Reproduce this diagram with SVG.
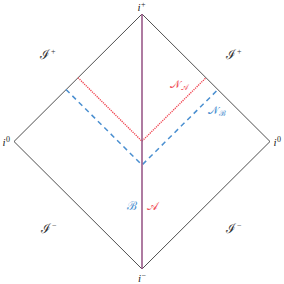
<svg xmlns="http://www.w3.org/2000/svg" width="284" height="284" viewBox="0 0 284 284">
<style>
.edge{fill:none;stroke:#222;stroke-width:0.8}
.red{fill:none;stroke:#f0434f;stroke-width:1.4;stroke-dasharray:1.2 1}
.blue{fill:none;stroke:#4a8fd0;stroke-width:1.5;stroke-dasharray:5 4}
.axis{fill:none;stroke:#9a5a8a;stroke-width:1.6}
.lbl{font-family:"Liberation Serif","DejaVu Serif",serif;font-style:italic;fill:#222}
.scr{font-family:"DejaVu Serif",serif;fill:#333}
.pl{font-family:"Liberation Serif",serif;font-style:normal}
.r{fill:#f0505a}
.b{fill:#4a8fd0}
</style>
<rect width="284" height="284" fill="#fff"/>
<g id="connectors">
<path class="edge" d="M142 14 L270 141.5 L142 269 L14 141.5 Z"/>
<path class="blue" d="M66 89.5 L142 165 L218 89.5"/>
<path class="red" d="M78 77.7 L142 141.2 L206 77.7"/>
<line class="axis" x1="142" y1="14" x2="142" y2="269"/>
</g>
<g id="i-plus"><text class="lbl" x="137.5" y="11" font-size="11">i<tspan class="pl" font-size="8" dx="0.5" dy="-4">+</tspan></text></g>
<g id="i-minus"><text class="lbl" x="138" y="282" font-size="11">i<tspan class="pl" font-size="8" dx="0.5" dy="-4">−</tspan></text></g>
<g id="i0-left"><text class="lbl" x="2.5" y="146" font-size="11">i<tspan class="pl" font-size="8" dx="0.5" dy="-4">0</tspan></text></g>
<g id="i0-right"><text class="lbl" x="273.5" y="146" font-size="11">i<tspan class="pl" font-size="8" dx="0.5" dy="-4">0</tspan></text></g>
<g id="scri-plus-left"><text class="scr" x="40" y="59" font-size="13">ℐ<tspan class="pl" font-size="8" dx="1" dy="-5">+</tspan></text></g>
<g id="scri-plus-right"><text class="scr" x="226" y="59" font-size="13">ℐ<tspan class="pl" font-size="8" dx="1" dy="-5">+</tspan></text></g>
<g id="scri-minus-left"><text class="scr" x="41" y="233" font-size="13">ℐ<tspan class="pl" font-size="8" dx="1" dy="-5">−</tspan></text></g>
<g id="scri-minus-right"><text class="scr" x="226" y="233" font-size="13">ℐ<tspan class="pl" font-size="8" dx="1" dy="-5">−</tspan></text></g>
<g id="NA"><text class="scr r" x="170" y="88" font-size="11">𝒩<tspan font-size="8" dy="2">𝒜</tspan></text></g>
<g id="NB"><text class="scr b" x="208" y="114" font-size="11">𝒩<tspan font-size="8" dy="2">ℬ</tspan></text></g>
<g id="B"><text class="scr b" x="127" y="210" font-size="12">ℬ</text></g>
<g id="A"><text class="scr r" x="147" y="210" font-size="12">𝒜</text></g>
</svg>
